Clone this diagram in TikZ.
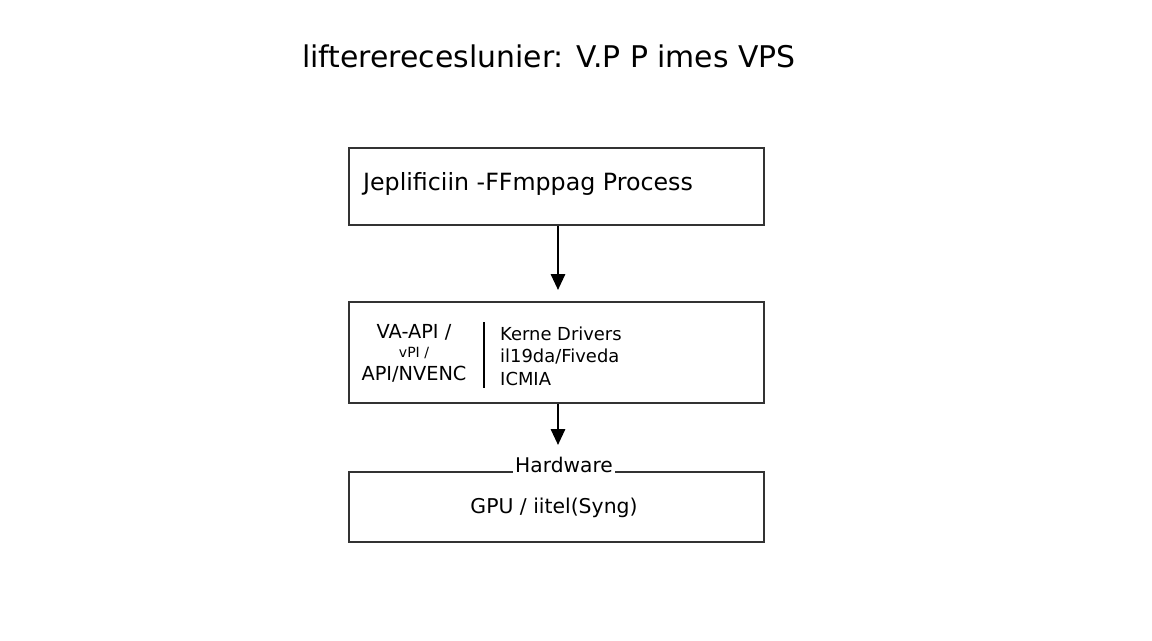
\documentclass[tikz,border=0pt]{standalone}
\usepackage{fontspec}
\setmainfont{DejaVu Sans}
\usetikzlibrary{arrows.meta,positioning}
\tikzset{
  layer/.style={draw=black!80, line width=1.1pt, minimum width=8.3cm, anchor=north west},
  flow/.style={-{Triangle[length=9pt,width=8pt]}, line width=1.4pt},
}
\begin{document}
\begin{tikzpicture}[x=0.02cm,y=-0.02cm]
  \useasboundingbox (0,0) rectangle (1152,640);
  % title
  \node[font=\fontsize{17}{20}\selectfont] (title) at (549,56) {lifterereceslunier: V.P P imes VPS};

  % layers
  \node[layer, minimum height=1.54cm] (app) at (348,147) {};
  \node[layer, minimum height=2.02cm] (drv) at (348,301) {};
  \node[layer, minimum height=1.40cm] (hw) at (348,471) {};

  \node[font=\fontsize{13.5}{16}\selectfont] (apptext) at (528,184) {Jeplificiin -FFmppag Process};

  \node[font=\fontsize{11}{13}\selectfont, align=center] (api) at (414,353)
    {VA-API /\\[-2pt] {\footnotesize vPI /}\\ API/NVENC};
  \coordinate (septop) at (484,322);
  \coordinate (sepbot) at (484,388);
  \draw[line width=0.8pt] (septop) -- (sepbot);
  \node[font=\fontsize{10.2}{12.8}\selectfont, align=left, anchor=west] (kern) at (494,356)
    {Kerne Drivers\\ il19da/Fiveda\\ ICMIA};

  \node[font=\fontsize{11.5}{14}\selectfont, fill=white, inner sep=1pt] (hwlabel) at (564,465) {Hardware};
  \node[font=\fontsize{11.6}{14}\selectfont] (gpu) at (554,508) {GPU / iitel(Syng)};

  % connectors
  \coordinate (a1) at (558,290);
  \coordinate (a2) at (558,445);
  \draw[flow] (app.south -| a1) -- (a1);
  \draw[flow] (drv.south -| a2) -- (a2);
\end{tikzpicture}
\end{document}
